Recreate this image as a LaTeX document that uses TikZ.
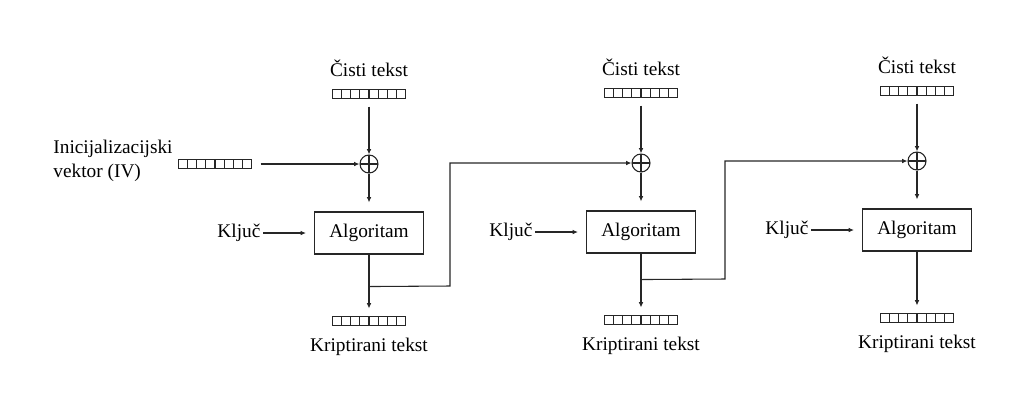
\documentclass[tikz,border=0pt]{standalone}
\usepackage{fontspec}
\setmainfont{Liberation Serif}
\usetikzlibrary{calc}
\usetikzlibrary{positioning}
\usetikzlibrary{arrows.meta}
\tikzset{>={Latex[length=4pt,width=3.5pt]}}
\colorlet{myline}{black!85}
\tikzstyle{txt}=[font=\fontsize{14.5}{17.5}\selectfont,inner sep=0pt]
\tikzstyle{register}=[draw=myline,line width=0.8pt,minimum width=54.75pt,minimum height=6.75pt,
  inner sep=0pt,outer sep=0pt,
  path picture={
    \foreach \k in {1,...,7}{
      \draw[myline,line width=0.8pt]
        ($(path picture bounding box.north west)!\k/8!(path picture bounding box.north east)$) --
        ($(path picture bounding box.south west)!\k/8!(path picture bounding box.south east)$);
    }
  }]
\tikzstyle{xor}=[draw=myline,line width=0.8pt,circle,minimum size=13.5pt,inner sep=0pt,
  path picture={
    \draw[myline,line width=0.8pt] (path picture bounding box.north) -- (path picture bounding box.south);
    \draw[myline,line width=0.8pt] (path picture bounding box.west) -- (path picture bounding box.east);
  }]
\tikzstyle{algbox}=[txt,draw=myline,line width=0.8pt,minimum width=81.75pt,minimum height=31.5pt]
\tikzstyle{flow}=[->,myline,line width=0.8pt]

\begin{document}
\begin{tikzpicture}[x=0.75pt,y=-0.75pt]
  \message{CBC encryption chain^^J}
  \useasboundingbox (0,0) rectangle (1020,401);

  % THREE ENCRYPTION STAGES
  \foreach \n/\x/\dy in {1/369/0,2/641/-1,3/917/-3}{
    \message{  Stage \n, x=\x...^^J}
    \node[txt]      (cist\n) at (\x,68+\dy)  {Čisti tekst};
    \node[register] (pin\n)  at (\x,94+\dy)  {};
    \node[xor]      (xor\n)  at (\x,164+\dy) {};
    \node[algbox]   (alg\n)  at (\x,233+\dy) {Algoritam};
    \node[txt,left=40pt of alg\n] (kljuc\n) {Ključ};
    \node[register] (pout\n) at (\x,321+\dy) {};
    \node[txt]      (krip\n) at (\x,347+\dy) {Kriptirani tekst};

    \draw[flow,shorten <=6pt] (pin\n) -- (xor\n);
    \draw[flow,shorten >=6.75pt] (xor\n) -- (alg\n);
    \draw[flow,shorten <=2pt,shorten >=6pt] (kljuc\n) -- (alg\n);
    \draw[flow,shorten >=6pt] (alg\n) -- (pout\n);
  }

  % INITIALISATION VECTOR
  \node[register] (ivreg) at (215,164) {};
  \node[txt,align=left] (ivtxt) at (113,161) {Inicijalizacijski\\vektor (IV)};
  \draw[flow,shorten <=6.75pt] (ivreg) -- (xor1);

  % FEEDBACK OF CIPHERTEXT
  \coordinate (split1) at ($(alg1.south)+(0,32)$);
  \coordinate (bend1)  at (450,286);
  \draw[flow] (split1) -- (bend1) |- (xor2);
  \coordinate (split2) at ($(alg2.south)+(0,26)$);
  \coordinate (bend2)  at (725,279);
  \draw[flow] (split2) -- (bend2) |- (xor3);

\end{tikzpicture}
\end{document}
